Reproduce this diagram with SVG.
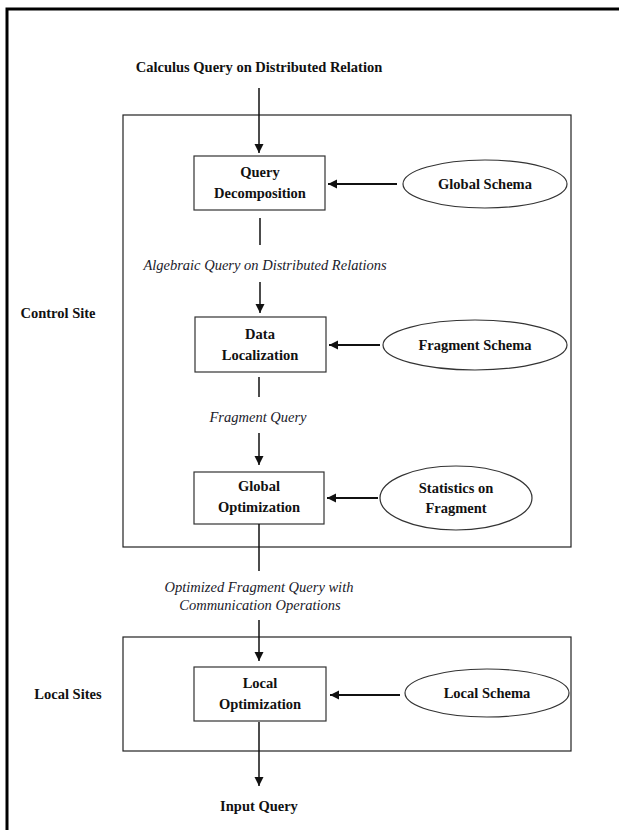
<svg xmlns="http://www.w3.org/2000/svg" width="619" height="830" viewBox="0 0 619 830">
<style>
text{font-family:"Liberation Serif","Times New Roman",serif;font-size:14.5px;fill:#111;text-anchor:middle}
.b{font-weight:bold}
.i{font-style:italic;fill:#1a1a2a}
.box{fill:#fff;stroke:#333;stroke-width:1.2}
.site{fill:none;stroke:#222;stroke-width:1.2}
.ell{fill:#fff;stroke:#333;stroke-width:1.2}
.c{stroke:#111;stroke-width:1.5;fill:none}
.h{stroke:#111;stroke-width:2.2;fill:none}
</style>
<defs>
<marker id="ah" markerWidth="10" markerHeight="10" refX="9" refY="5" orient="auto" markerUnits="userSpaceOnUse">
<path d="M0,0.5 L9,5 L0,9.5 Z" fill="#111"/>
</marker>
</defs>
<rect width="619" height="830" fill="#fff"/>
<path d="M7,830 V9 H619" fill="none" stroke="#000" stroke-width="3"/>
<g id="control-site">
<rect class="site" x="123" y="115" width="448" height="432"/>
<text class="b" x="58" y="318">Control Site</text>
</g>
<g id="local-sites">
<rect class="site" x="123" y="637" width="448" height="114"/>
<text class="b" x="68" y="699">Local Sites</text>
</g>
<g id="title"><text class="b" x="259" y="72">Calculus Query on Distributed Relation</text></g>
<g id="query-decomposition">
<rect class="box" x="194" y="156" width="131" height="54"/>
<text class="b" x="260" y="177">Query</text>
<text class="b" x="260" y="198">Decomposition</text>
</g>
<g id="global-schema">
<ellipse class="ell" cx="485" cy="184" rx="82" ry="24"/>
<text class="b" x="485" y="189">Global Schema</text>
</g>
<g id="data-localization">
<rect class="box" x="195" y="317" width="131" height="55"/>
<text class="b" x="260" y="339">Data</text>
<text class="b" x="260" y="360">Localization</text>
</g>
<g id="fragment-schema">
<ellipse class="ell" cx="475" cy="345" rx="92" ry="25"/>
<text class="b" x="475" y="350">Fragment Schema</text>
</g>
<g id="global-optimization">
<rect class="box" x="194" y="472" width="130" height="52"/>
<text class="b" x="259" y="491">Global</text>
<text class="b" x="259" y="512">Optimization</text>
</g>
<g id="statistics-on-fragment">
<ellipse class="ell" cx="456" cy="498" rx="76" ry="32"/>
<text class="b" x="456" y="493">Statistics on</text>
<text class="b" x="456" y="513">Fragment</text>
</g>
<g id="local-optimization">
<rect class="box" x="194" y="667" width="132" height="54"/>
<text class="b" x="260" y="688">Local</text>
<text class="b" x="260" y="709">Optimization</text>
</g>
<g id="local-schema">
<ellipse class="ell" cx="487" cy="693" rx="82" ry="24"/>
<text class="b" x="487" y="698">Local Schema</text>
</g>
<g id="labels">
<text class="i" x="265" y="270">Algebraic Query on Distributed Relations</text>
<text class="i" x="258" y="422">Fragment Query</text>
<text class="i" x="259" y="592">Optimized Fragment Query with</text>
<text class="i" x="260" y="610">Communication Operations</text>
<text class="b" x="259" y="811">Input Query</text>
</g>
<g id="connectors">
<line class="c" x1="259" y1="88" x2="259" y2="153" marker-end="url(#ah)"/>
<line class="h" x1="397" y1="184" x2="328" y2="184" marker-end="url(#ah)"/>
<line class="c" x1="260" y1="218" x2="260" y2="245"/>
<line class="c" x1="260" y1="282" x2="260" y2="313" marker-end="url(#ah)"/>
<line class="h" x1="380" y1="345" x2="329" y2="345" marker-end="url(#ah)"/>
<line class="c" x1="259" y1="377" x2="259" y2="397"/>
<line class="c" x1="259" y1="433" x2="259" y2="465" marker-end="url(#ah)"/>
<line class="h" x1="378" y1="498" x2="327" y2="498" marker-end="url(#ah)"/>
<line class="c" x1="259" y1="524" x2="259" y2="571"/>
<line class="c" x1="259" y1="620" x2="259" y2="661" marker-end="url(#ah)"/>
<line class="h" x1="400" y1="695" x2="330" y2="695" marker-end="url(#ah)"/>
<line class="c" x1="259" y1="722" x2="259" y2="786" marker-end="url(#ah)"/>
</g>
</svg>
